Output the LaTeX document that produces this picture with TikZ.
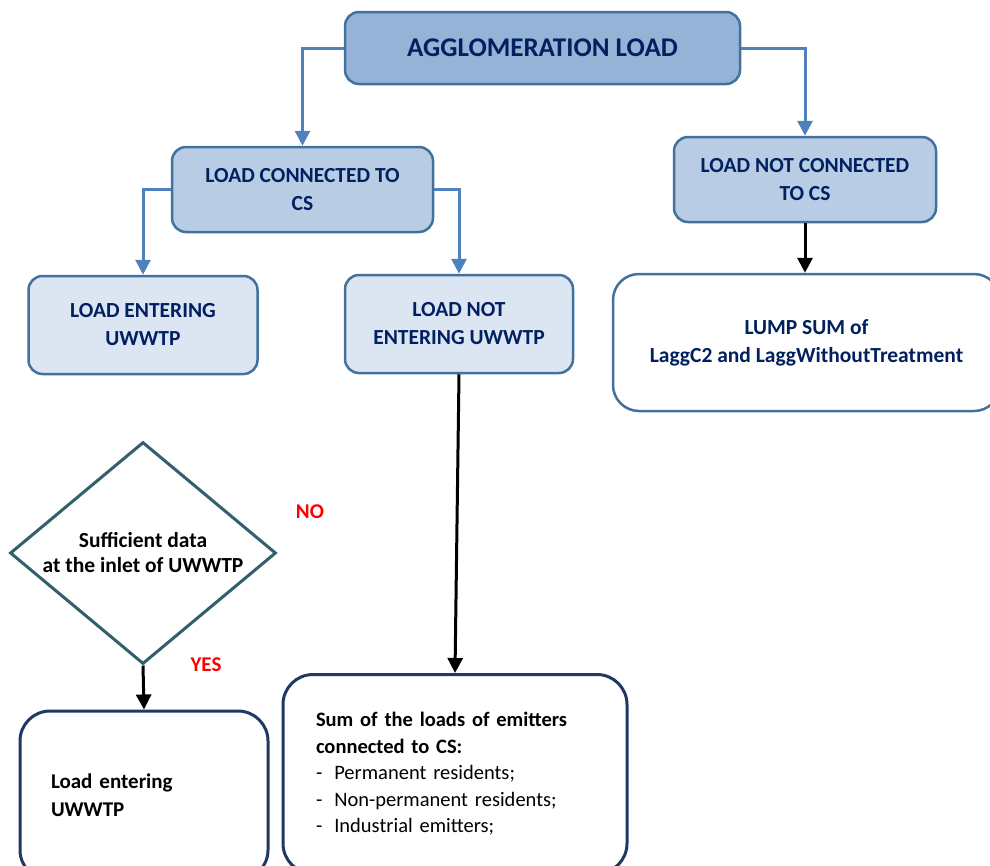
\documentclass[tikz,border=0pt]{standalone}
\usepackage{fontspec}
\setmainfont{Carlito}
\usetikzlibrary{shapes.geometric,arrows.meta}
\definecolor{navytext}{RGB}{0,32,96}
\definecolor{boxedge}{RGB}{65,113,156}
\definecolor{flowblue}{RGB}{79,129,189}
\definecolor{darkfill}{RGB}{149,179,215}
\definecolor{midfill}{RGB}{184,204,228}
\definecolor{lightfill}{RGB}{220,230,242}
\definecolor{navyedge}{RGB}{31,56,100}
\definecolor{tealedge}{RGB}{49,95,107}
\begin{document}
\begin{tikzpicture}[x=1pt,y=-1pt]

\tikzset{topnode/.style={rectangle,rounded corners=14pt,draw=boxedge,line width=2.5pt,fill=darkfill,text=navytext,font=\bfseries\fontsize{27}{30}\selectfont,minimum width=395pt,minimum height=72pt},}
\tikzset{midnode/.style={rectangle,rounded corners=14pt,draw=boxedge,line width=2.5pt,fill=midfill,text=navytext,align=center,font=\bfseries\fontsize{21.5}{28}\selectfont,minimum width=261pt,minimum height=85pt},}
\tikzset{leafnode/.style={midnode,fill=lightfill,minimum width=229pt,minimum height=98pt},}
\tikzset{lumpnode/.style={midnode,fill=white,rounded corners=26pt,minimum width=387pt,minimum height=137pt},}
\tikzset{resnode/.style={rectangle,rounded corners=30pt,draw=navyedge,line width=3pt,fill=white,align=left,inner xsep=31pt},}
\tikzset{decnode/.style={diamond,aspect=1.2,draw=tealedge,line width=3pt,fill=white,inner sep=0pt,minimum width=266pt,minimum height=222pt,align=center,font=\bfseries\fontsize{21.5}{25}\selectfont},}
\tikzset{flow/.style={draw=flowblue,line width=3pt,-{Triangle[length=15pt,width=15pt]}},}
\tikzset{flowb/.style={draw=black,line width=3pt,-{Triangle[length=15pt,width=15pt]}},}
\tikzset{answer/.style={text=red,font=\bfseries\fontsize{21}{24}\selectfont},}

\clip (0,0) rectangle (990,865);

%TOP
\draw (542.5,48) node [topnode] (agg) {AGGLOMERATION LOAD};
\draw (302.5,189.5) node [midnode] (conn) {LOAD CONNECTED TO\\CS};
\draw (805,179.5) node [midnode,minimum width=262pt] (notconn) {LOAD NOT CONNECTED\\TO CS};

\draw[flow] (agg.west) -| (conn.north);
\draw[flow] (agg.east) -| (notconn.north);

%CONNECTED
\draw (143,325) node [leafnode] (enter) {LOAD ENTERING\\UWWTP};
\draw (459,324) node [leafnode,minimum width=228pt] (notenter) {LOAD NOT\\ENTERING UWWTP};

\draw[flow] (conn.west) -| (enter.north);
\draw[flow] (conn.east) -| (notenter.north);

%NOT CONNECTED
\draw (806.5,342.5) node [lumpnode] (lump) {LUMP SUM of\\LaggC2 and LaggWithoutTreatment};
\draw[flowb] (notconn.south) -- (notconn.south |- lump.north);

%DECISION
\draw (143,553) node [decnode] (dec) {Sufficient data\\at the inlet of UWWTP};
\draw (310,512) node [answer] (no) {NO};
\draw (206,665) node [answer] (yes) {YES};

%RESULTS
\draw (144,795.5) node [resnode,text width=186pt,minimum height=169pt,font=\bfseries\fontsize{21}{28}\selectfont] (lent) {Load entering\\UWWTP};
\draw (455,774) node [resnode,inner xsep=33pt,text width=278pt,minimum height=199pt,font=\fontsize{20.5}{26.5}\selectfont] (sum) {\textbf{Sum of the loads of emitters}\\\textbf{connected to CS:}\\-\hspace{12pt}Permanent residents;\\-\hspace{12pt}Non-permanent residents;\\-\hspace{12pt}Industrial emitters;};

\draw[flowb] (dec.south) -- (lent.north);
\draw[flowb] (notenter.south) -- (sum.north);

\end{tikzpicture}
\end{document}
